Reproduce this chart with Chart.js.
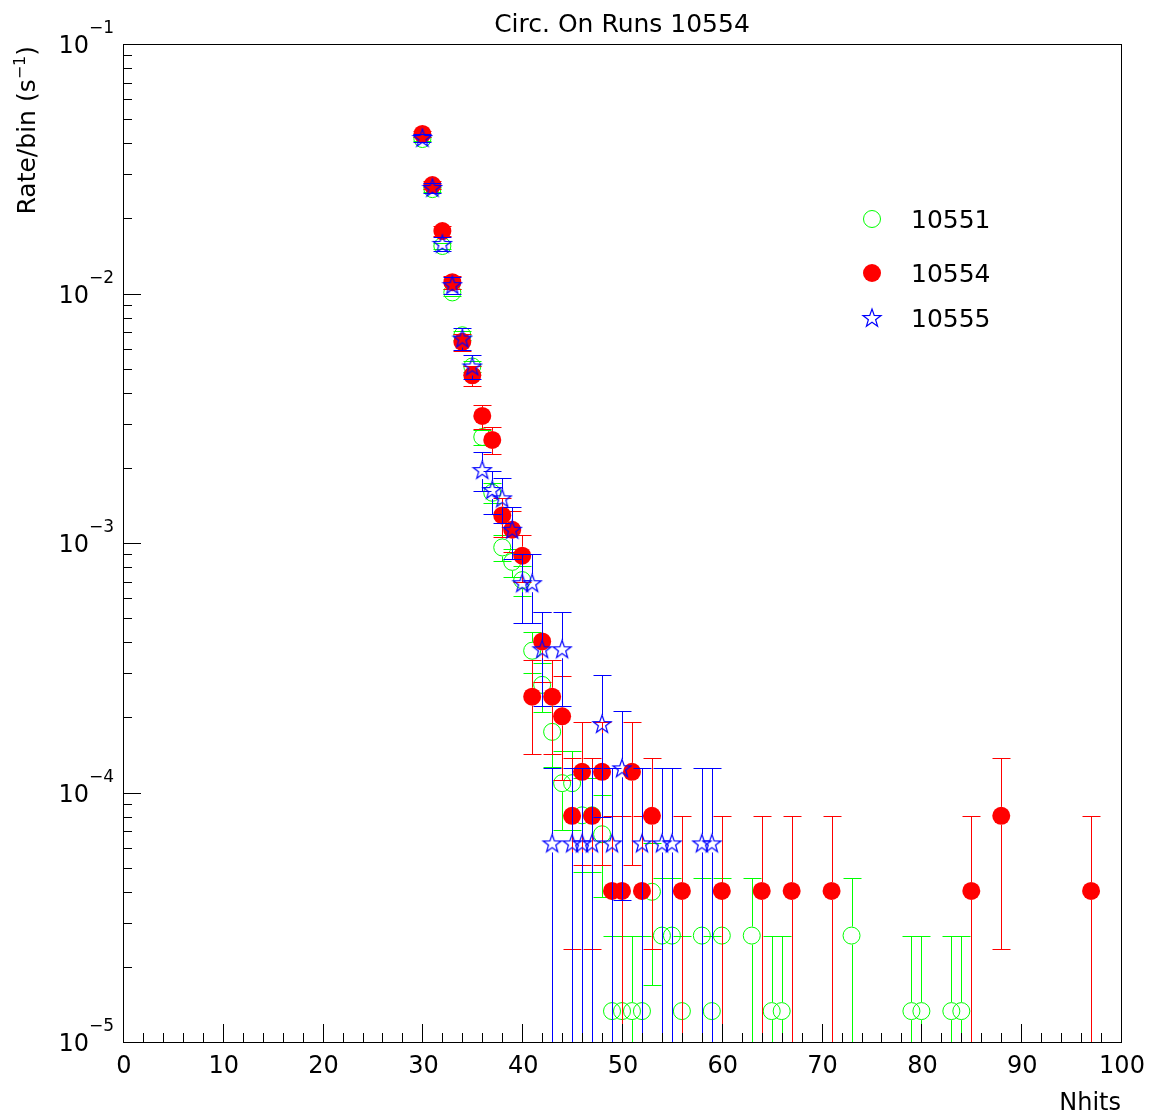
<!DOCTYPE html>
<html lang="en">
<head>
  <meta charset="UTF-8" />
  <title>Circ. On Runs 10554</title>
  <script src="https://cdn.jsdelivr.net/npm/chart.js"></script>
  <style>
    html, body { margin: 0; padding: 0; background: #fff; }
    #wrap { width: 1152px; height: 1116px; }
  </style>
</head>
<body>
  <div id="wrap"><canvas id="graph" width="1152" height="1116"></canvas></div>

  <script>
    // run 10551 (green open circles)
    const nhits10551 = [30, 31, 32, 33, 34, 35, 36, 37, 38, 39, 40, 41, 42, 43, 44, 45, 46, 47, 48,
                        49, 50, 51, 52, 53, 54, 55, 56, 58, 59, 60, 63, 65, 66, 73, 79, 80, 83, 84];
    const rate10551 = [0.0416, 0.0262, 0.0155, 0.0101, 0.0068, 0.0051, 0.00266, 0.00159, 0.00096, 0.00084,
                       0.00071, 0.00037, 0.00027, 0.000175, 0.000109, 0.000109, 0.000081, 0.000081, 0.000068,
                       1.33e-5, 1.33e-5, 1.33e-5, 1.33e-5, 4.0e-5, 2.67e-5, 2.67e-5, 1.33e-5, 2.67e-5, 1.33e-5,
                       2.67e-5, 2.67e-5, 1.33e-5, 1.33e-5, 2.67e-5, 1.33e-5, 1.33e-5, 1.33e-5, 1.33e-5];
    const err10551 = [7.5e-4, 5.9e-4, 4.6e-4, 3.7e-4, 3.0e-4, 2.6e-4, 1.9e-4, 1.46e-4, 1.13e-4, 1.06e-4,
                      9.7e-5, 7.0e-5, 6.0e-5, 4.8e-5, 3.8e-5, 3.8e-5, 3.3e-5, 3.3e-5, 3.0e-5,
                      1.33e-5, 1.33e-5, 1.33e-5, 1.33e-5, 2.3e-5, 1.89e-5, 1.89e-5, 1.33e-5, 1.89e-5, 1.33e-5,
                      1.89e-5, 1.89e-5, 1.33e-5, 1.33e-5, 1.89e-5, 1.33e-5, 1.33e-5, 1.33e-5, 1.33e-5];

    // run 10554 (red full circles)
    const nhits10554 = [30, 31, 32, 33, 34, 35, 36, 37, 38, 39, 40, 41, 42, 43, 44, 45, 46, 47, 48, 49, 50,
                        51, 52, 53, 56, 60, 64, 67, 71, 85, 88, 97];
    const rate10554 = [0.0436, 0.0272, 0.0178, 0.0111, 0.0064, 0.0047, 0.00323, 0.00259, 0.00129, 0.00113,
                       0.00089, 0.000242, 0.000403, 0.000242, 0.000202, 8.06e-5, 1.21e-4, 8.06e-5, 1.21e-4,
                       4.03e-5, 4.03e-5, 1.21e-4, 4.03e-5, 8.06e-5, 4.03e-5, 4.03e-5, 4.03e-5, 4.03e-5,
                       4.03e-5, 4.03e-5, 8.06e-5, 4.03e-5];
    const err10554 = [1.33e-3, 1.05e-3, 8.5e-4, 6.7e-4, 5.1e-4, 4.4e-4, 3.6e-4, 3.2e-4, 2.3e-4, 2.1e-4,
                      1.9e-4, 9.9e-5, 1.27e-4, 9.9e-5, 9.0e-5, 5.7e-5, 7.0e-5, 5.7e-5, 7.0e-5,
                      4.03e-5, 4.03e-5, 7.0e-5, 4.03e-5, 5.7e-5, 4.03e-5, 4.03e-5, 4.03e-5, 4.03e-5,
                      4.03e-5, 4.03e-5, 5.7e-5, 4.03e-5];

    // run 10555 (blue open stars)
    const nhits10555 = [30, 31, 32, 33, 34, 35, 36, 37, 38, 39, 40, 41, 42, 43, 44, 45, 46, 47, 48, 49, 50,
                        52, 54, 55, 58, 59];
    const rate10555 = [0.042, 0.0265, 0.0158, 0.0108, 0.0066, 0.0051, 0.00196, 0.00163, 0.00151, 0.00113,
                       0.00069, 0.00069, 0.000375, 6.25e-5, 0.000375, 6.25e-5, 6.25e-5, 6.25e-5, 0.000188,
                       6.25e-5, 0.000125, 6.25e-5, 6.25e-5, 6.25e-5, 6.25e-5, 6.25e-5];
    const err10555 = [1.62e-3, 1.29e-3, 9.9e-4, 8.2e-4, 6.4e-4, 5.6e-4, 3.5e-4, 3.2e-4, 3.1e-4, 2.7e-4,
                      2.1e-4, 2.1e-4, 1.53e-4, 6.25e-5, 1.53e-4, 6.25e-5, 6.25e-5, 6.25e-5, 1.08e-4,
                      6.25e-5, 8.8e-5, 6.25e-5, 6.25e-5, 6.25e-5, 6.25e-5, 6.25e-5];

    const runLabels = ['10551', '10554', '10555'];
    const xTickValues = [0, 10, 20, 30, 40, 50, 60, 70, 80, 90, 100];
    const yTickExponents = [-1, -2, -3, -4, -5];

    const errors = [err10551, err10554, err10555];
    const FONT = '"DejaVu Sans", sans-serif';
    const MARK = 9;

    function points(xs, ys) {
      return xs.map((x, i) => ({ x: x, y: ys[i] }));
    }

    // open 5 branch star like ROOT marker 30
    function makeStar(color) {
      const c = document.createElement('canvas');
      c.width = 22; c.height = 22;
      const g = c.getContext('2d');
      g.strokeStyle = color;
      g.lineWidth = 1.2;
      g.beginPath();
      for (let k = 0; k < 10; k++) {
        const r = k % 2 ? 3.8 : 9.5;
        const a = -Math.PI / 2 + k * Math.PI / 5;
        const px = 11 + r * Math.cos(a), py = 11.5 + r * Math.sin(a);
        if (k) g.lineTo(px, py); else g.moveTo(px, py);
      }
      g.closePath();
      g.stroke();
      return c;
    }
    const starBlue = makeStar('#0000ff');

    const fondBlanc = {
      id: 'fondBlanc',
      beforeDraw(chart) {
        const ctx = chart.ctx;
        ctx.save();
        ctx.fillStyle = '#fff';
        ctx.fillRect(0, 0, chart.width, chart.height);
        ctx.restore();
      }
    };

    // error bars, drawn just before each dataset's markers
    const barresErreur = {
      id: 'barresErreur',
      beforeDatasetDraw(chart, args) {
        const ds = chart.data.datasets[args.index];
        const errs = errors[args.index];
        const xs = chart.scales.x, ys = chart.scales.y, area = chart.chartArea;
        const ctx = chart.ctx;
        ctx.save();
        ctx.beginPath();
        ctx.rect(area.left, area.top, area.right - area.left, area.bottom - area.top);
        ctx.clip();
        ctx.strokeStyle = ds.borderColor;
        ctx.lineWidth = 1;
        ctx.beginPath();
        ds.data.forEach((p, i) => {
          const x = Math.round(xs.getPixelForValue(p.x)) + 0.5;
          const yc = ys.getPixelForValue(p.y);
          const yTop = Math.round(ys.getPixelForValue(p.y + errs[i])) + 0.5;
          const low = p.y - errs[i];
          const yBot = low > ys.min ? Math.round(ys.getPixelForValue(low)) + 0.5 : area.bottom;
          if (yTop < yc - MARK) { ctx.moveTo(x, yTop); ctx.lineTo(x, yc - MARK); }
          if (yBot > yc + MARK) { ctx.moveTo(x, yc + MARK); ctx.lineTo(x, yBot); }
          ctx.moveTo(x - MARK, yTop); ctx.lineTo(x + MARK, yTop);
          if (low > ys.min) { ctx.moveTo(x - MARK, yBot); ctx.lineTo(x + MARK, yBot); }
        });
        ctx.stroke();
        ctx.restore();
      }
    };

    // frame, inner ticks, labels, title and legend
    const cadre = {
      id: 'cadre',
      afterDraw(chart) {
        const ctx = chart.ctx, a = chart.chartArea;
        const xs = chart.scales.x, ys = chart.scales.y;
        ctx.save();
        ctx.strokeStyle = '#000';
        ctx.lineWidth = 1;
        ctx.strokeRect(a.left + 0.5, a.top + 0.5, a.right - a.left, a.bottom - a.top);

        ctx.beginPath();
        for (let v = 0; v <= 100; v += 2) {
          const x = Math.round(xs.getPixelForValue(v)) + 0.5;
          const len = v % 10 === 0 ? 18 : 9;
          ctx.moveTo(x, a.bottom); ctx.lineTo(x, a.bottom - len);
        }
        yTickExponents.forEach(e => {
          for (let k = 1; k <= 9; k++) {
            const v = k * Math.pow(10, e - 1);
            if (v < ys.min * 0.999) continue;
            const y = Math.round(ys.getPixelForValue(v)) + 0.5;
            const len = k === 1 ? 18 : 9;
            ctx.moveTo(a.left, y); ctx.lineTo(a.left + len, y);
          }
        });
        const yTopDecade = Math.round(ys.getPixelForValue(0.1)) + 0.5;
        ctx.moveTo(a.left, yTopDecade); ctx.lineTo(a.left + 18, yTopDecade);
        ctx.stroke();

        ctx.fillStyle = '#000';
        ctx.textBaseline = 'alphabetic';

        // x tick labels
        ctx.font = '24px ' + FONT;
        ctx.textAlign = 'center';
        xTickValues.forEach(v => {
          ctx.fillText(String(v), xs.getPixelForValue(v) + 1, a.bottom + 31);
        });

        // y tick labels 10^n
        yTickExponents.forEach(e => {
          const y = ys.getPixelForValue(Math.pow(10, e));
          ctx.font = '24px ' + FONT;
          ctx.textAlign = 'right';
          ctx.fillText('10', 89, y + 9);
          ctx.font = '17px ' + FONT;
          ctx.textAlign = 'left';
          ctx.fillText('\u2212' + Math.abs(e), 89, y - 11);
        });

        // title
        ctx.font = '25px ' + FONT;
        ctx.textAlign = 'center';
        ctx.fillText('Circ. On Runs 10554', 622, 32);

        // x title
        ctx.textAlign = 'right';
        ctx.font = '24px ' + FONT;
        ctx.fillText('Nhits', a.right, 1110);

        // y title, rotated, ending near the top of the frame
        ctx.save();
        ctx.font = '25px ' + FONT;
        const w1 = ctx.measureText('Rate/bin (s').width;
        const w3 = ctx.measureText(')').width;
        ctx.font = '16px ' + FONT;
        const w2 = ctx.measureText('\u22121').width;
        const total = w1 + w2 + w3;
        ctx.translate(35, 46 + total);
        ctx.rotate(-Math.PI / 2);
        ctx.textAlign = 'left';
        ctx.font = '25px ' + FONT;
        ctx.fillText('Rate/bin (s', 0, 0);
        ctx.font = '16px ' + FONT;
        ctx.fillText('\u22121', w1, -10);
        ctx.font = '25px ' + FONT;
        ctx.fillText(')', w1 + w2, 0);
        ctx.restore();

        // legend
        const legY = [219, 273, 318];
        ctx.font = '25px ' + FONT;
        ctx.textAlign = 'left';
        runLabels.forEach((lab, i) => {
          const y = legY[i];
          if (i === 0) {
            ctx.strokeStyle = '#00ff00';
            ctx.beginPath(); ctx.arc(872, y, 8.5, 0, 2 * Math.PI); ctx.stroke();
          } else if (i === 1) {
            ctx.fillStyle = '#ff0000';
            ctx.beginPath(); ctx.arc(872, y, 9, 0, 2 * Math.PI); ctx.fill();
          } else {
            ctx.drawImage(starBlue, 872 - 11, y - 11);
          }
          ctx.fillStyle = '#000';
          ctx.fillText(lab, 911, y + 9);
        });
        ctx.restore();
      }
    };

    new Chart(document.getElementById('graph'), {
      type: 'scatter',
      data: {
        datasets: [
          {
            label: runLabels[0],
            data: points(nhits10551, rate10551),
            pointStyle: 'circle',
            pointRadius: 8.5,
            borderWidth: 1,
            borderColor: '#00ff00',
            backgroundColor: 'rgba(0,0,0,0)',
            order: 3
          },
          {
            label: runLabels[1],
            data: points(nhits10554, rate10554),
            pointStyle: 'circle',
            pointRadius: 9,
            borderWidth: 0,
            borderColor: '#ff0000',
            backgroundColor: '#ff0000',
            order: 2
          },
          {
            label: runLabels[2],
            data: points(nhits10555, rate10555),
            pointStyle: starBlue,
            pointRadius: 10,
            borderWidth: 1,
            borderColor: '#0000ff',
            backgroundColor: 'rgba(0,0,0,0)',
            order: 1
          }
        ]
      },
      options: {
        responsive: false,
        animation: false,
        events: [],
        layout: { padding: { left: 123, right: 31, top: 44, bottom: 74 }, autoPadding: false },
        plugins: {
          legend: { display: false },
          tooltip: { enabled: false },
          title: { display: false }
        },
        scales: {
          x: { type: 'linear', min: 0, max: 100, display: false },
          y: { type: 'logarithmic', min: 1e-5, max: 1e-1, display: false }
        }
      },
      plugins: [fondBlanc, barresErreur, cadre]
    });
  </script>
</body>
</html>
